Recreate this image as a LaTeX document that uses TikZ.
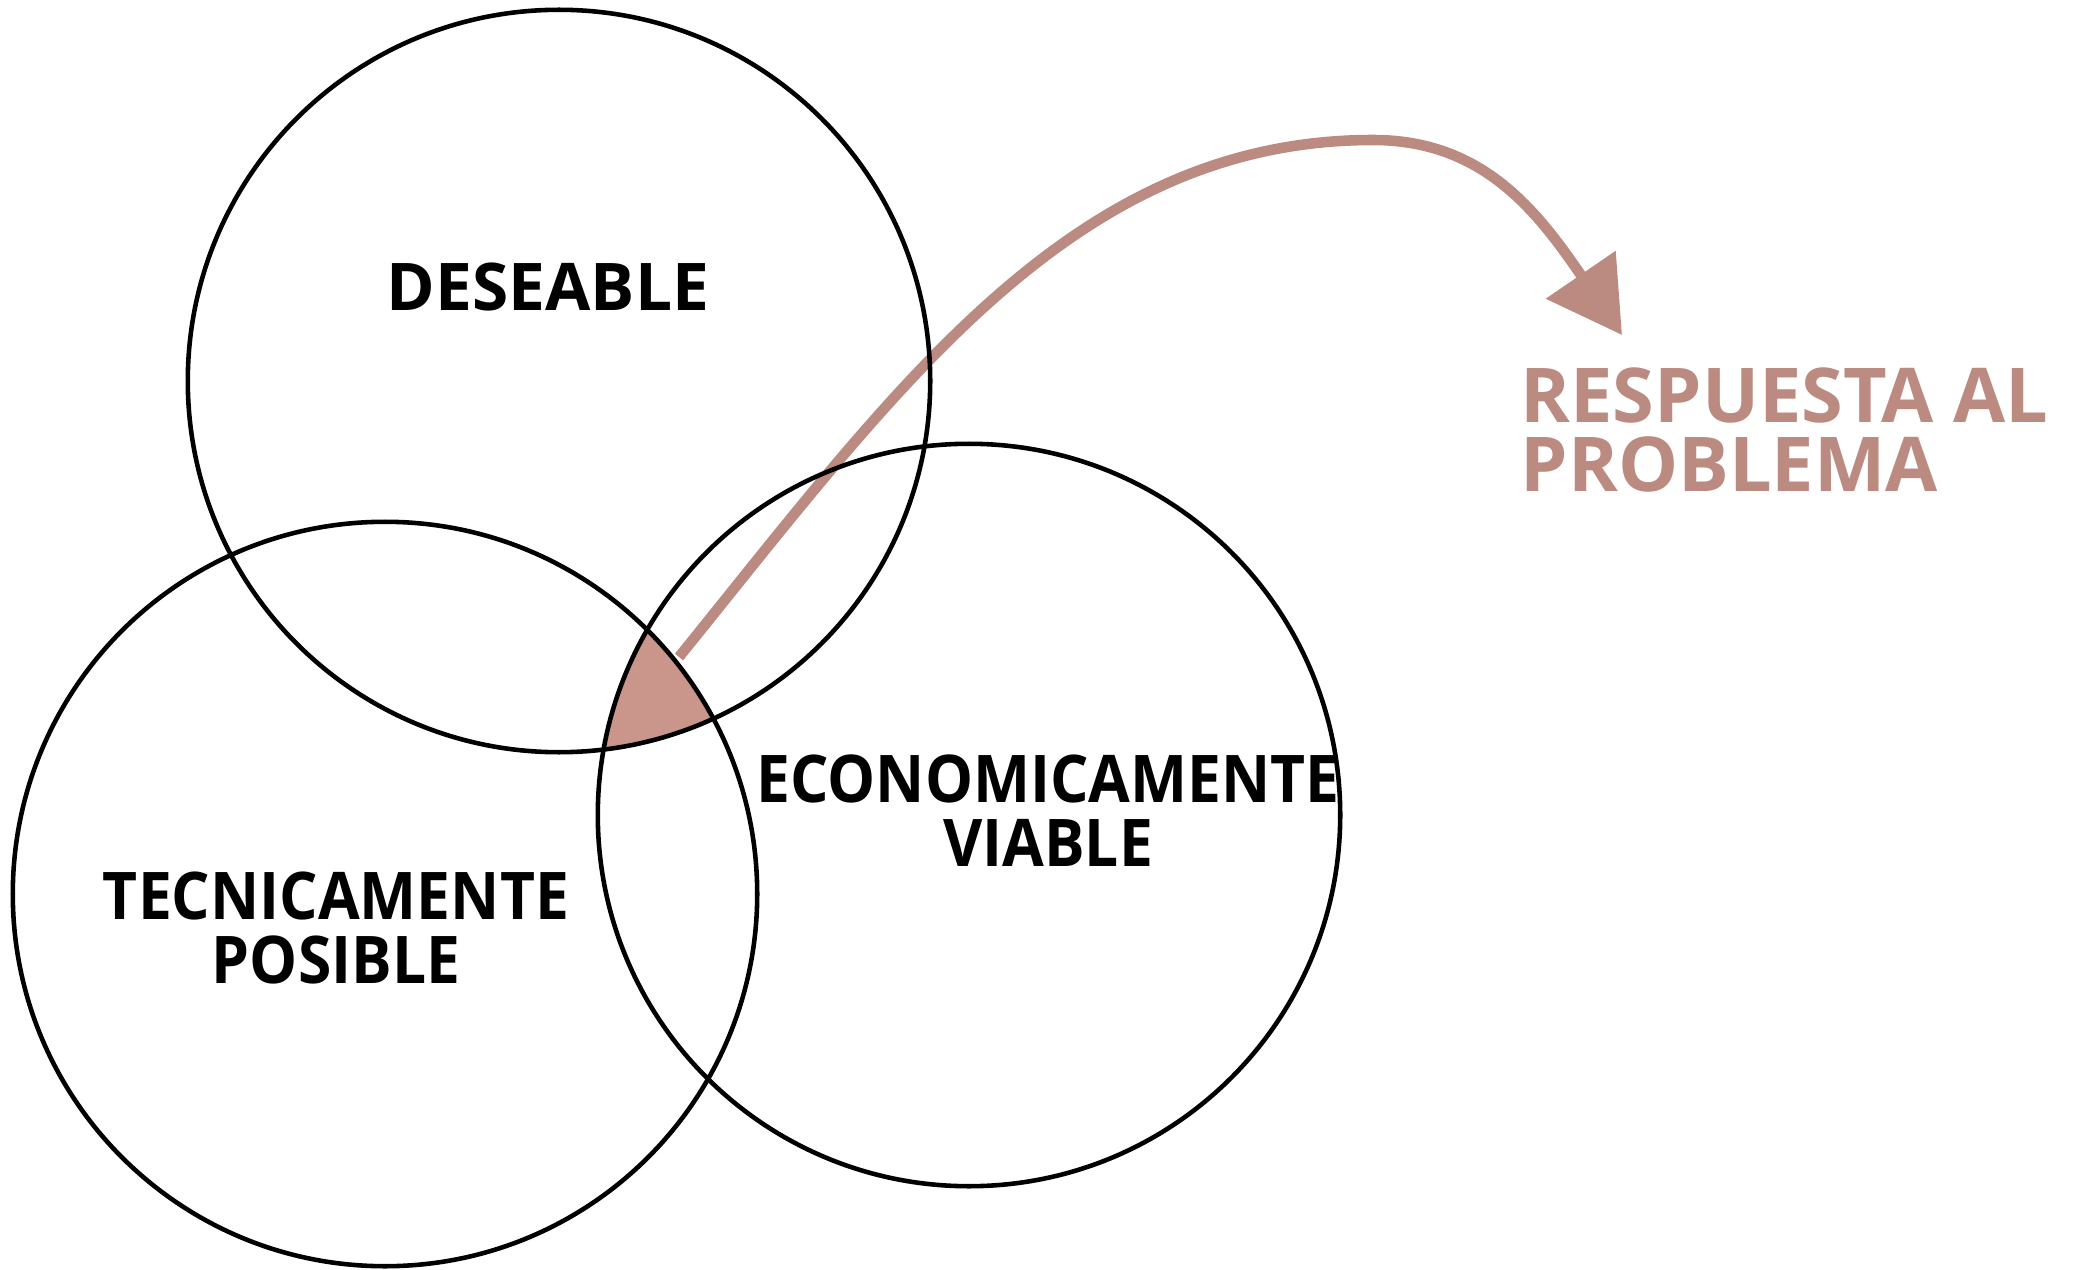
\documentclass[tikz,border=0pt]{standalone}
\usepackage{fontspec}
\setmainfont{Open Sans}
\usepackage{xcolor}
\usetikzlibrary{arrows.meta}

\definecolor{rosa}{RGB}{187,138,128}
\definecolor{relleno}{RGB}{202,149,139}

\tikzset{
    anillo/.style={draw, circle, line width=1.3pt, minimum size=7.42cm, inner sep=0pt},
    etiqueta/.style={align=center, inner sep=0pt, font=\bfseries\fontsize{18.7}{18.2}\selectfont},
    estrecha/.style={font=\bfseries\addfontfeature{FakeStretch=0.92}\fontsize{18.7}{18.2}\selectfont}
}

\begin{document}
\begin{tikzpicture}[x=0.01cm, y=-0.01cm]
    \useasboundingbox (0,0) rectangle (2091,1270);

    % Flecha
    \coordinate (centro) at (679,657);
    \coordinate (punta) at (1622,335);
    \draw[rosa, line width=3pt, -{Triangle[length=0.73cm, width=0.82cm]}]
        (centro) .. controls (899,385) and (1073,140) .. (1373,140)
        .. controls (1483,140) and (1537,211) .. (punta);

    % Zona comun
    \begin{scope}
        \clip (559,381) circle (3.71cm);
        \clip (385,894) circle (3.72cm);
        \fill[relleno] (969,815) circle (3.71cm);
    \end{scope}

    % Circulos
    \node[anillo] (deseable) at (559,381) {};
    \node[anillo, minimum size=7.44cm] (tecnica) at (385,894) {};
    \node[anillo] (economica) at (969,815) {};

    % Textos
    \node[etiqueta] (tdes) at (548,287) {DESEABLE};
    \node[etiqueta, estrecha] (ttec) at (336,928) {TECNICAMENTE\\POSIBLE};
    \node[etiqueta, estrecha] (teco) at (1048,811) {ECONOMICAMENTE\\VIABLE};
    \node[anchor=west, align=left, inner sep=0pt, text=rosa,
          font=\bfseries\fontsize{21.5}{19.9}\selectfont] (respuesta) at (1520,430) {RESPUESTA AL\\PROBLEMA};
\end{tikzpicture}
\end{document}
